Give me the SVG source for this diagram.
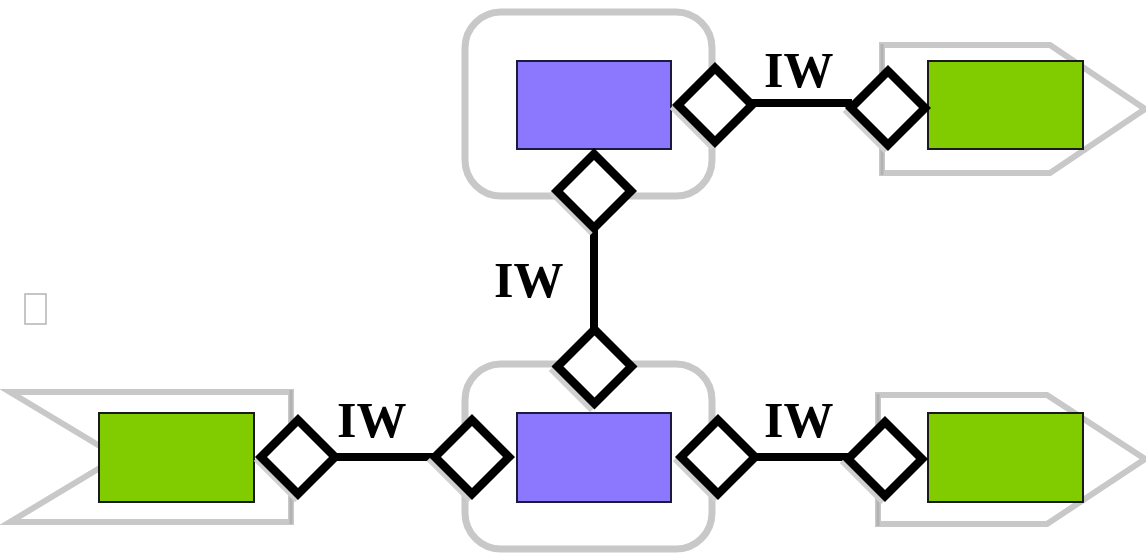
<svg xmlns="http://www.w3.org/2000/svg" width="1146" height="556" viewBox="0 0 1146 556">
  <style>
    .frame { fill: #ffffff; stroke: #c8c8c8; stroke-width: 7; }
    .pointer { fill: #ffffff; stroke: #c8c8c8; stroke-width: 6; stroke-linejoin: miter; }
    .edge { stroke: #b2b2b2; stroke-width: 3; }
    .comp { fill: #8b78ff; stroke: #1c1a3c; stroke-width: 2; }
    .ext { fill: #80cc00; stroke: #1a1a1a; stroke-width: 2; }
    .port { fill: #ffffff; stroke: #000000; stroke-width: 8.5; stroke-linejoin: miter; }
    .portshadow { fill: none; stroke: #d0d0d0; stroke-width: 6; }
    .wire { stroke: #000000; stroke-width: 8; fill: none; }
    .label { font-family: "Liberation Serif", "Times New Roman", serif; font-weight: bold; font-size: 50px; fill: #000000; }
  </style>
  <defs>
    <path id="diamond" d="M0,-37 L37,0 L0,37 L-37,0 Z"/>
  </defs>

  <rect x="25" y="294" width="21" height="30" fill="#ffffff" stroke="#b4b4b4" stroke-width="1.5"/>

  <!-- component frames -->
  <g id="component-top">
    <rect class="frame" x="465" y="12" width="247" height="184" rx="36"/>
    <rect class="comp" x="517" y="61" width="154" height="88"/>
  </g>
  <g id="component-bottom">
    <rect class="frame" x="465" y="364" width="247" height="185" rx="36"/>
    <rect class="comp" x="517" y="413" width="154" height="89"/>
  </g>

  <!-- external endpoints -->
  <g id="external-top-right">
    <polygon class="pointer" points="882,45 1050,45 1145,109 1050,173 882,173"/>
    <line class="edge" x1="882" y1="44" x2="882" y2="175"/>
    <rect class="ext" x="928" y="61" width="155" height="88"/>
  </g>
  <g id="external-bottom-right">
    <polygon class="pointer" points="878,395 1047,395 1145,459 1047,524 878,524"/>
    <line class="edge" x1="878" y1="394" x2="878" y2="526"/>
    <rect class="ext" x="928" y="413" width="155" height="89"/>
  </g>
  <g id="external-bottom-left">
    <polygon class="pointer" points="10,392 291,392 291,522 10,522 118,457"/>
    <line class="edge" x1="291" y1="390" x2="291" y2="524"/>
    <rect class="ext" x="99" y="413" width="155" height="89"/>
  </g>

  <!-- connectors -->
  <g id="connectors">
    <line class="wire" x1="750" y1="103" x2="852" y2="103"/>
    <line class="wire" x1="594" y1="224" x2="594" y2="332"/>
    <line class="wire" x1="332" y1="457" x2="438" y2="457"/>
    <line class="wire" x1="752" y1="457" x2="850" y2="457"/>
    <text class="label" x="764" y="87">IW</text>
    <text class="label" x="494" y="297">IW</text>
    <text class="label" x="337" y="437">IW</text>
    <text class="label" x="764" y="437">IW</text>
  </g>

  <!-- ports -->
  <g id="port-top-right">
    <use href="#diamond" class="portshadow" transform="translate(711,109)"/>
    <use href="#diamond" class="port" transform="translate(715,105)"/>
  </g>
  <g id="port-top-down">
    <use href="#diamond" class="portshadow" transform="translate(590,194)"/>
    <use href="#diamond" class="port" transform="translate(594,191)"/>
  </g>
  <g id="port-bottom-up">
    <use href="#diamond" class="portshadow" transform="translate(590,371)"/>
    <use href="#diamond" class="port" transform="translate(594.5,366.5)"/>
  </g>
  <g id="port-bottom-left">
    <use href="#diamond" class="portshadow" transform="translate(468,461)"/>
    <use href="#diamond" class="port" transform="translate(472,457)"/>
  </g>
  <g id="port-bottom-right">
    <use href="#diamond" class="portshadow" transform="translate(714,461)"/>
    <use href="#diamond" class="port" transform="translate(718,457)"/>
  </g>
  <g id="port-ext-top-right">
    <use href="#diamond" class="portshadow" transform="translate(884,112)"/>
    <use href="#diamond" class="port" transform="translate(888,108)"/>
  </g>
  <g id="port-ext-bottom-left">
    <use href="#diamond" class="portshadow" transform="translate(295,461)"/>
    <use href="#diamond" class="port" transform="translate(298,457)"/>
  </g>
  <g id="port-ext-bottom-right">
    <use href="#diamond" class="portshadow" transform="translate(881,463)"/>
    <use href="#diamond" class="port" transform="translate(885,459)"/>
  </g>
</svg>
